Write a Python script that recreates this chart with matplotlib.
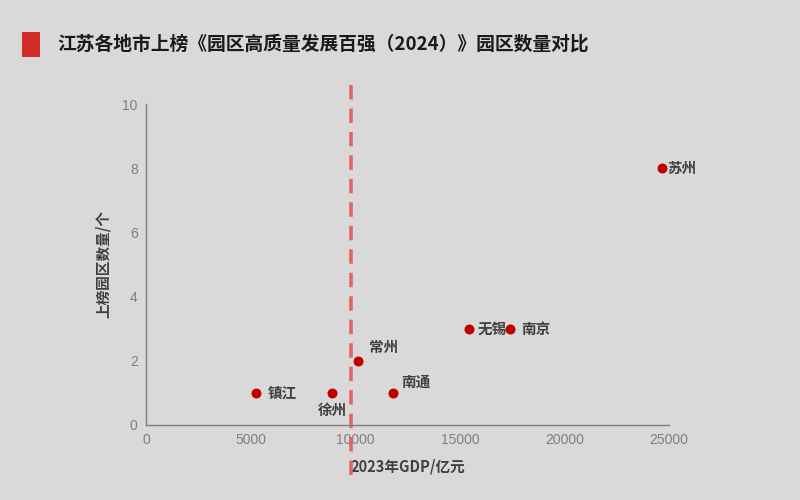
import matplotlib
matplotlib.use("Agg")
import matplotlib.pyplot as plt
import matplotlib.patches as mpatches

plt.rcParams["font.family"] = ["Noto Sans CJK SC", "DejaVu Sans"]

cities = ["镇江", "徐州", "常州", "南通", "无锡", "南京", "苏州"]
gdp = [5264, 8900, 10116, 11813, 15456, 17421, 24653]
parks = [1, 1, 2, 1, 3, 3, 8]
threshold = 9800

# label offsets in points (dx, dy, ha, va)
offsets = {
    "镇江": (8, 0, "left", "center"),
    "徐州": (0, -12, "center", "center"),
    "常州": (8, 10, "left", "center"),
    "南通": (6, 8, "left", "center"),
    "无锡": (6, 0, "left", "center"),
    "南京": (8, 0, "left", "center"),
    "苏州": (4, 0, "left", "center"),
}

BG = "#d9d9d9"
fig = plt.figure(figsize=(8, 5), dpi=100, facecolor=BG)
ax = fig.add_axes([0.1825, 0.15, 0.6538, 0.642], facecolor=BG)

ax.scatter(gdp, parks, s=38, color="#c00000", zorder=3)
for c, x, y in zip(cities, gdp, parks):
    dx, dy, ha, va = offsets[c]
    ax.annotate(c, (x, y), xytext=(dx, dy), textcoords="offset points",
                ha=ha, va=va, fontsize=10.5, fontweight="bold", color="#404040")

ax.plot([threshold, threshold], [-1.56, 10.6], ls=(0, (4, 2.5)), lw=2.6,
        color="#e06666", clip_on=False, zorder=2)

ax.set_xlim(0, 25000)
ax.set_ylim(0, 10)
ax.set_xticks([0, 5000, 10000, 15000, 20000, 25000])
ax.set_yticks([0, 2, 4, 6, 8, 10])
ax.tick_params(length=0, labelsize=10, colors="#7f7f7f", pad=6)
for lbl in ax.get_xticklabels() + ax.get_yticklabels():
    lbl.set_fontfamily(["Liberation Sans", "DejaVu Sans"])
for s in ("top", "right"):
    ax.spines[s].set_visible(False)
for s in ("left", "bottom"):
    ax.spines[s].set_color("#7f7f7f")
    ax.spines[s].set_linewidth(1)

ax.set_xlabel("2023年GDP/亿元", fontsize=10.5, fontweight="bold", color="#404040", labelpad=8)
ax.set_ylabel("上榜园区数量/个", fontsize=10.5, fontweight="bold", color="#404040", labelpad=8)

fig.patches.append(mpatches.Rectangle((22 / 800, 1 - 57 / 500), 18 / 800, 25 / 500,
                                      transform=fig.transFigure, facecolor="#d42b2b",
                                      edgecolor="none"))
fig.text(57 / 800, 1 - 44 / 500, "江苏各地市上榜《园区高质量发展百强（2024）》园区数量对比",
         fontsize=13.5, fontweight="bold", color="#1a1a1a", va="center", ha="left")

fig.savefig("out.png", dpi=100, facecolor=BG)
